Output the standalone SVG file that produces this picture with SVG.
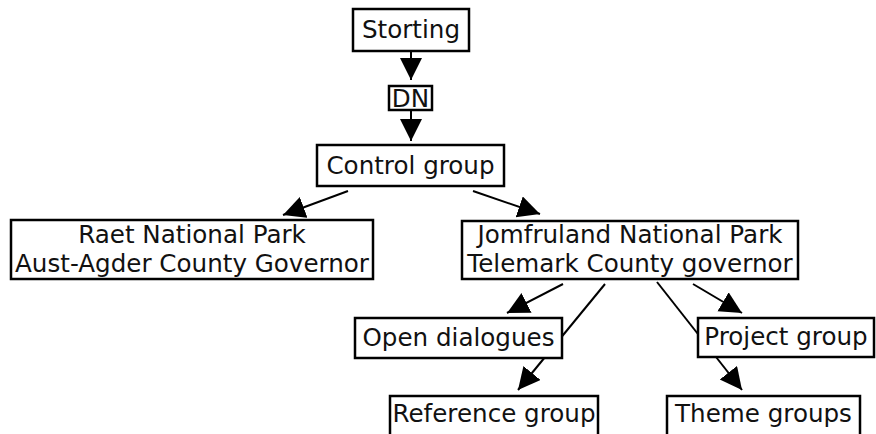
<svg xmlns="http://www.w3.org/2000/svg" width="876" height="434" viewBox="0 0 876 434">
<style>
  .box { fill: #fff; stroke: #000; stroke-width: 2.5; }
  .lbl { font-family: "DejaVu Sans", Verdana, sans-serif; font-size: 24.6px; fill: #111; text-anchor: middle; }
  .conn line { stroke: #000; stroke-width: 2; marker-end: url(#ah); }
</style>
<defs>
  <marker id="ah" markerUnits="userSpaceOnUse" markerWidth="24" markerHeight="24" refX="22" refY="11" orient="auto">
    <path d="M0,0 L22,11 L0,22 z" fill="#000"/>
  </marker>
</defs>
<rect width="876" height="434" fill="#fff"/>
<g id="connectors" class="conn">
  <line x1="411" y1="51" x2="411" y2="80"/>
  <line x1="411" y1="110" x2="411" y2="141"/>
  <line x1="348" y1="191" x2="283" y2="215"/>
  <line x1="473" y1="191" x2="540" y2="214"/>
  <line x1="563" y1="284" x2="507" y2="313"/>
  <line x1="605" y1="284" x2="518" y2="390"/>
  <line x1="693" y1="284" x2="742" y2="313"/>
  <line x1="657" y1="282" x2="742" y2="390"/>
</g>
<g id="storting">
  <rect class="box" x="353" y="9" width="116" height="42"/>
  <text class="lbl" x="411" y="38">Storting</text>
</g>
<g id="dn">
  <rect class="box" x="389" y="86" width="43" height="24"/>
  <text class="lbl" x="410.5" y="107">DN</text>
</g>
<g id="control">
  <rect class="box" x="317" y="145" width="187" height="41"/>
  <text class="lbl" x="410.5" y="174">Control group</text>
</g>
<g id="raet">
  <rect class="box" x="11" y="220" width="362" height="59"/>
  <text class="lbl" x="192" y="243">Raet National Park</text>
  <text class="lbl" x="192" y="272">Aust-Agder County Governor</text>
</g>
<g id="jomfruland">
  <rect class="box" x="462" y="221" width="336" height="58"/>
  <text class="lbl" x="630" y="243">Jomfruland National Park</text>
  <text class="lbl" x="630" y="272">Telemark County governor</text>
</g>
<g id="open">
  <rect class="box" x="355" y="318" width="207" height="40"/>
  <text class="lbl" x="458.5" y="346">Open dialogues</text>
</g>
<g id="project">
  <rect class="box" x="698" y="318" width="176" height="39"/>
  <text class="lbl" x="786" y="345">Project group</text>
</g>
<g id="reference">
  <rect class="box" x="390" y="396" width="208" height="50"/>
  <text class="lbl" x="494" y="422">Reference group</text>
</g>
<g id="theme">
  <rect class="box" x="667" y="396" width="193" height="50"/>
  <text class="lbl" x="763.5" y="422">Theme groups</text>
</g>
</svg>
